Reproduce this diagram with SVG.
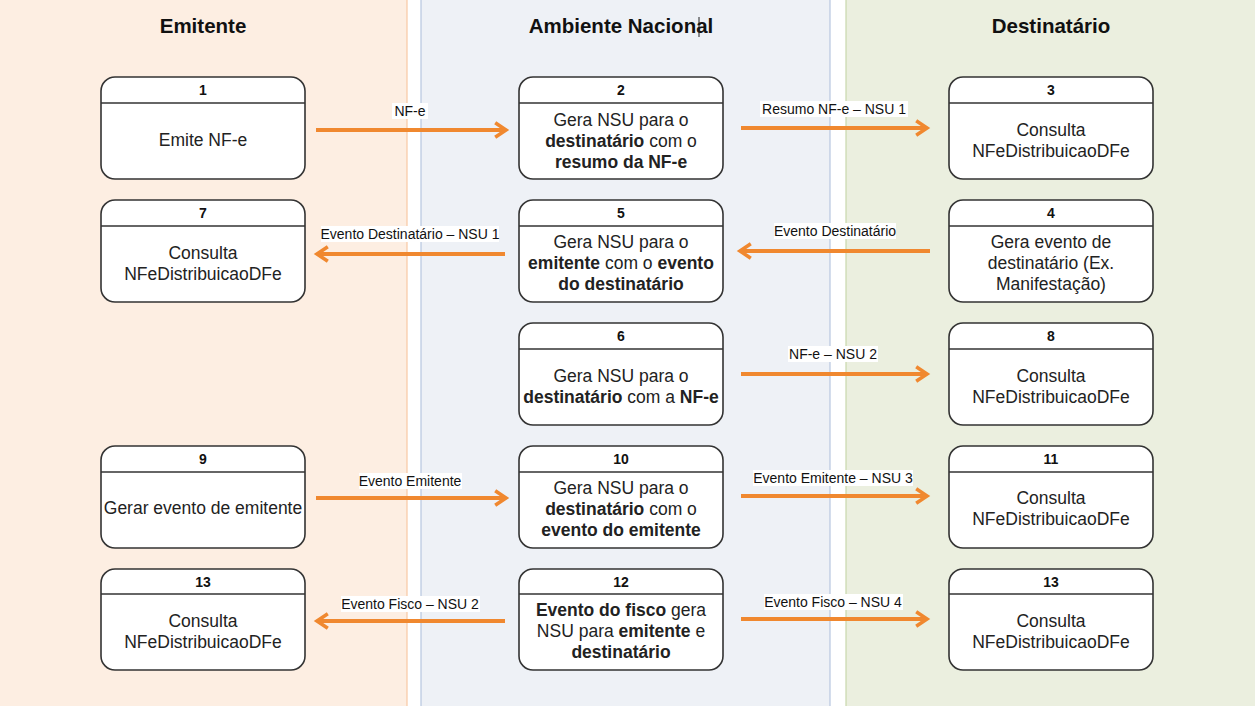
<svg xmlns="http://www.w3.org/2000/svg" width="1255" height="706" viewBox="0 0 1255 706">
<defs>
<style>
.lane{stroke-width:1.2}
.title{font-family:"Liberation Sans",Arial,sans-serif;font-size:20.5px;font-weight:bold;fill:#111;text-anchor:middle}
.box{fill:#fff;stroke:#333;stroke-width:1.6}
.hd{stroke:#333;stroke-width:1.6}
.num{font-family:"Liberation Sans",Arial,sans-serif;font-size:14px;font-weight:bold;fill:#111;text-anchor:middle}
.txt{font-family:"Liberation Sans",Arial,sans-serif;font-size:17.5px;fill:#222;text-anchor:middle}
.b{font-weight:bold}
.edge{stroke:#f0882f;stroke-width:4;fill:none}
.lbl{font-family:"Liberation Sans",Arial,sans-serif;font-size:14px;fill:#111;text-anchor:middle}
.lblbg{fill:#fff}
</style>
<marker id="arr" viewBox="0 0 10 10" refX="8" refY="5" markerWidth="4.5" markerHeight="4.5" orient="auto" markerUnits="strokeWidth">
<path d="M2,1 L8,5 L2,9" fill="none" stroke="#f0882f" stroke-width="2"/>
</marker>
</defs>
<rect width="1255" height="706" fill="#fff"/>
<g id="lanes">
<rect class="lane" x="-1" y="-1" width="408" height="708" fill="#fdeee2" stroke="#f8c9a3"/>
<rect class="lane" x="421" y="-1" width="409" height="708" fill="#eef1f6" stroke="#b7c7df"/>
<rect class="lane" x="846" y="-1" width="410" height="708" fill="#ebefdf" stroke="#c8d8ac"/>
<text class="title" x="203" y="33">Emitente</text>
<text class="title" x="621" y="33">Ambiente Nacional</text>
<line x1="699" y1="17" x2="699" y2="37" stroke="#222" stroke-width="1"/>
<text class="title" x="1051" y="33">Destinatário</text>
</g>
<g id="connectors">
<line class="edge" x1="316" y1="130" x2="506" y2="130" marker-end="url(#arr)"/>
<rect class="lblbg" x="392" y="103" width="36" height="16"/><text class="lbl" x="410" y="116">NF-e</text>
<line class="edge" x1="741" y1="128" x2="927" y2="128" marker-end="url(#arr)"/>
<rect class="lblbg" x="760" y="101" width="148" height="16"/><text class="lbl" x="834" y="114">Resumo NF-e – NSU 1</text>
<line class="edge" x1="505" y1="254" x2="317" y2="254" marker-end="url(#arr)"/>
<rect class="lblbg" x="321" y="226" width="178" height="16"/><text class="lbl" x="410" y="239">Evento Destinatário – NSU 1</text>
<line class="edge" x1="930" y1="251" x2="740" y2="251" marker-end="url(#arr)"/>
<rect class="lblbg" x="774" y="223" width="122" height="16"/><text class="lbl" x="835" y="236">Evento Destinatário</text>
<line class="edge" x1="741" y1="374" x2="927" y2="374" marker-end="url(#arr)"/>
<rect class="lblbg" x="788" y="346" width="90" height="16"/><text class="lbl" x="833" y="359">NF-e – NSU 2</text>
<line class="edge" x1="316" y1="498" x2="506" y2="498" marker-end="url(#arr)"/>
<rect class="lblbg" x="359" y="473" width="103" height="16"/><text class="lbl" x="410" y="486">Evento Emitente</text>
<line class="edge" x1="741" y1="496" x2="927" y2="496" marker-end="url(#arr)"/>
<rect class="lblbg" x="753" y="470" width="160" height="16"/><text class="lbl" x="833" y="483">Evento Emitente – NSU 3</text>
<line class="edge" x1="505" y1="621" x2="317" y2="621" marker-end="url(#arr)"/>
<rect class="lblbg" x="341" y="596" width="139" height="16"/><text class="lbl" x="410" y="609">Evento Fisco – NSU 2</text>
<line class="edge" x1="741" y1="619" x2="927" y2="619" marker-end="url(#arr)"/>
<rect class="lblbg" x="764" y="594" width="139" height="16"/><text class="lbl" x="833" y="607">Evento Fisco – NSU 4</text>
</g>
<g id="n1">
<rect class="box" x="101" y="77" width="204" height="102" rx="14"/>
<line class="hd" x1="101" y1="103" x2="305" y2="103"/>
<text class="num" x="203" y="95">1</text>
<text class="txt" x="203" y="146">Emite NF-e</text>
</g>
<g id="n2">
<rect class="box" x="519" y="77" width="204" height="102" rx="14"/>
<line class="hd" x1="519" y1="103" x2="723" y2="103"/>
<text class="num" x="621" y="95">2</text>
<text class="txt" x="621" y="126">Gera NSU para o</text>
<text class="txt" x="621" y="147"><tspan class="b">destinatário</tspan> com o</text>
<text class="txt b" x="621" y="168">resumo da NF-e</text>
</g>
<g id="n3">
<rect class="box" x="949" y="77" width="204" height="102" rx="14"/>
<line class="hd" x1="949" y1="103" x2="1153" y2="103"/>
<text class="num" x="1051" y="95">3</text>
<text class="txt" x="1051" y="136">Consulta</text>
<text class="txt" x="1051" y="157">NFeDistribuicaoDFe</text>
</g>
<g id="n7">
<rect class="box" x="101" y="200" width="204" height="102" rx="14"/>
<line class="hd" x1="101" y1="226" x2="305" y2="226"/>
<text class="num" x="203" y="218">7</text>
<text class="txt" x="203" y="259">Consulta</text>
<text class="txt" x="203" y="280">NFeDistribuicaoDFe</text>
</g>
<g id="n5">
<rect class="box" x="519" y="200" width="204" height="102" rx="14"/>
<line class="hd" x1="519" y1="226" x2="723" y2="226"/>
<text class="num" x="621" y="218">5</text>
<text class="txt" x="621" y="248">Gera NSU para o</text>
<text class="txt" x="621" y="269"><tspan class="b">emitente</tspan> com o <tspan class="b">evento</tspan></text>
<text class="txt b" x="621" y="290">do destinatário</text>
</g>
<g id="n4">
<rect class="box" x="949" y="200" width="204" height="102" rx="14"/>
<line class="hd" x1="949" y1="226" x2="1153" y2="226"/>
<text class="num" x="1051" y="218">4</text>
<text class="txt" x="1051" y="248">Gera evento de</text>
<text class="txt" x="1051" y="269">destinatário (Ex.</text>
<text class="txt" x="1051" y="290">Manifestação)</text>
</g>
<g id="n6">
<rect class="box" x="519" y="323" width="204" height="102" rx="14"/>
<line class="hd" x1="519" y1="349" x2="723" y2="349"/>
<text class="num" x="621" y="341">6</text>
<text class="txt" x="621" y="382">Gera NSU para o</text>
<text class="txt" x="621" y="403"><tspan class="b">destinatário</tspan> com a <tspan class="b">NF-e</tspan></text>
</g>
<g id="n8">
<rect class="box" x="949" y="323" width="204" height="102" rx="14"/>
<line class="hd" x1="949" y1="349" x2="1153" y2="349"/>
<text class="num" x="1051" y="341">8</text>
<text class="txt" x="1051" y="382">Consulta</text>
<text class="txt" x="1051" y="403">NFeDistribuicaoDFe</text>
</g>
<g id="n9">
<rect class="box" x="101" y="446" width="204" height="102" rx="14"/>
<line class="hd" x1="101" y1="472" x2="305" y2="472"/>
<text class="num" x="203" y="464">9</text>
<text class="txt" x="203" y="514">Gerar evento de emitente</text>
</g>
<g id="n10">
<rect class="box" x="519" y="446" width="204" height="102" rx="14"/>
<line class="hd" x1="519" y1="472" x2="723" y2="472"/>
<text class="num" x="621" y="464">10</text>
<text class="txt" x="621" y="494">Gera NSU para o</text>
<text class="txt" x="621" y="515"><tspan class="b">destinatário</tspan> com o</text>
<text class="txt b" x="621" y="536">evento do emitente</text>
</g>
<g id="n11">
<rect class="box" x="949" y="446" width="204" height="102" rx="14"/>
<line class="hd" x1="949" y1="472" x2="1153" y2="472"/>
<text class="num" x="1051" y="464">11</text>
<text class="txt" x="1051" y="504">Consulta</text>
<text class="txt" x="1051" y="525">NFeDistribuicaoDFe</text>
</g>
<g id="n13a">
<rect class="box" x="101" y="569" width="204" height="101" rx="14"/>
<line class="hd" x1="101" y1="594" x2="305" y2="594"/>
<text class="num" x="203" y="587">13</text>
<text class="txt" x="203" y="627">Consulta</text>
<text class="txt" x="203" y="648">NFeDistribuicaoDFe</text>
</g>
<g id="n12">
<rect class="box" x="519" y="569" width="204" height="101" rx="14"/>
<line class="hd" x1="519" y1="594" x2="723" y2="594"/>
<text class="num" x="621" y="587">12</text>
<text class="txt" x="621" y="616"><tspan class="b">Evento do fisco</tspan> gera</text>
<text class="txt" x="621" y="637">NSU para <tspan class="b">emitente</tspan> e</text>
<text class="txt b" x="621" y="658">destinatário</text>
</g>
<g id="n13b">
<rect class="box" x="949" y="569" width="204" height="101" rx="14"/>
<line class="hd" x1="949" y1="594" x2="1153" y2="594"/>
<text class="num" x="1051" y="587">13</text>
<text class="txt" x="1051" y="627">Consulta</text>
<text class="txt" x="1051" y="648">NFeDistribuicaoDFe</text>
</g>
</svg>
